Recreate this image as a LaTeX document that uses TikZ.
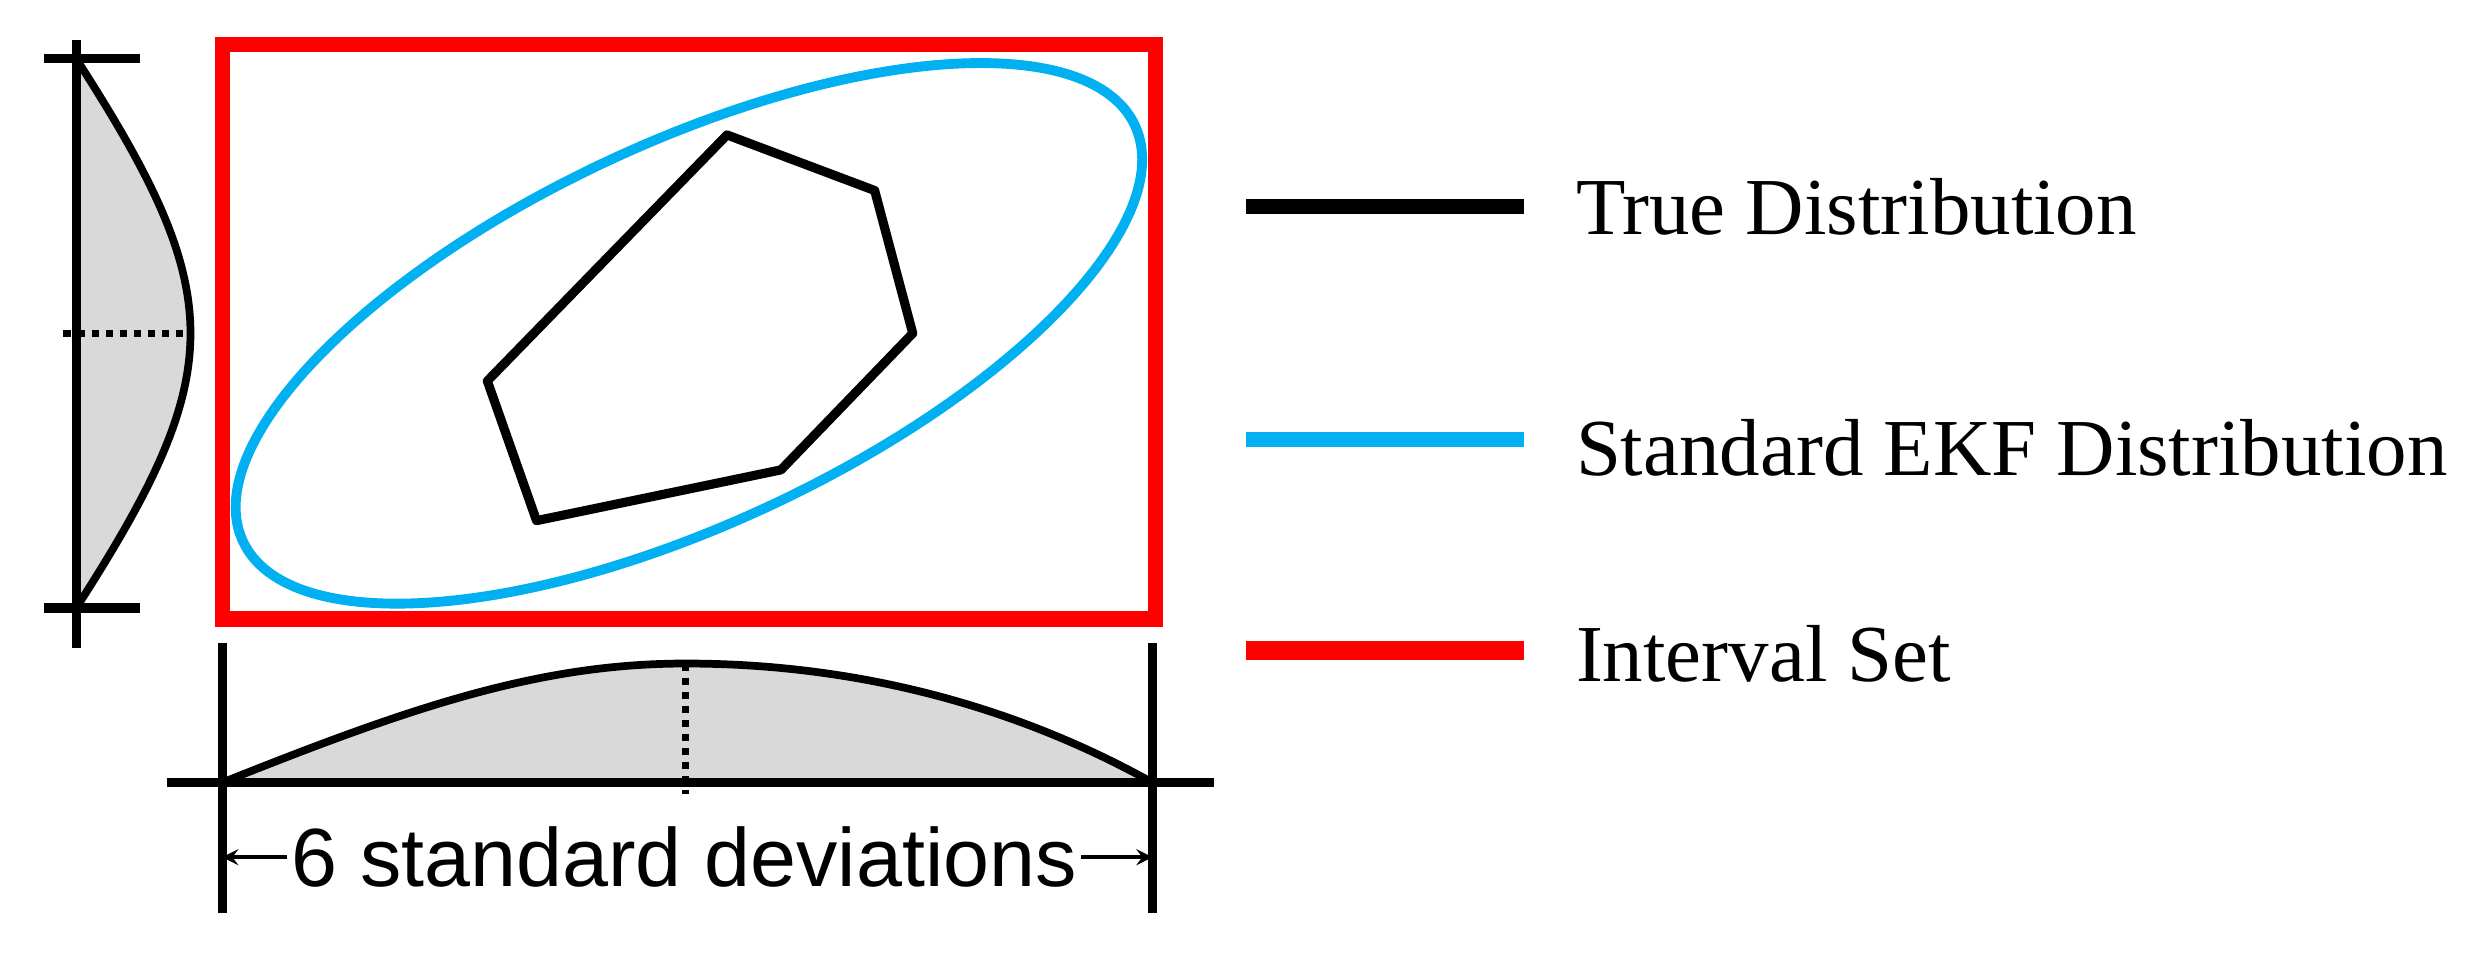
\documentclass[tikz,border=0pt]{standalone}
\usepackage{fontspec}
\setmainfont{Liberation Serif}
\setsansfont{Liberation Sans}
\definecolor{ekf}{RGB}{0,176,240}
\definecolor{ired}{RGB}{255,0,0}
\begin{document}
\begin{tikzpicture}[x=0.015874cm,y=-0.015874cm,
  ax/.style={line width=2.6pt},
  dist/.style={line width=2.2pt, fill=black!15},
  dot/.style={line width=2pt, dotted},
  leg/.style={anchor=west, font=\fontsize{23}{27}\selectfont}]
\useasboundingbox (0,0) rectangle (1568,606);
% interval set
\draw[ired, line width=4.4pt] (140,28) rectangle (728,390);
% EKF ellipse
\draw[ekf, line width=2.8pt, rotate around={25:(434,210)}] (434,210) ellipse [x radius=310, y radius=120];
% true distribution
\draw[line width=2.6pt, line join=round] (458,85) -- (551,120) -- (575,210) -- (492,296) -- (338,328) -- (307,240) -- cycle;
% left distribution
\draw[dist] (48,37) .. controls (95,110) and (120,160) .. (120,210) .. controls (120,260) and (95,310) .. (48,383) -- cycle;
\draw[ax] (48,25) -- (48,408);
\draw[ax] (28,37) -- (88,37);
\draw[ax] (28,383) -- (88,383);
\draw[dot] (40,210) -- (120,210);
% bottom distribution
\draw[dist] (140,493) .. controls (260,445) and (340,418) .. (432,418) .. controls (540,418) and (640,445) .. (726,493) -- cycle;
\draw[ax] (105,493) -- (765,493);
\coordinate (l) at (140,540);
\coordinate (r) at (726,540);
\draw[ax] (140,405) -- (140,575);
\draw[ax] (726,405) -- (726,575);
\draw[dot] (432,418) -- (432,500);
\node[font=\sffamily\fontsize{23.5}{28}\selectfont, inner sep=1pt] (lab) at (431,540) {6 standard deviations};
\draw[-stealth, line width=1pt] (lab.west) -- (l);
\draw[-stealth, line width=1pt] (lab.east) -- (r);
% legend
\draw[line width=4.4pt] (785,130) -- (960,130);
\node[leg] at (985,130) {True Distribution};
\draw[ekf, line width=4.4pt] (785,277) -- (960,277);
\node[leg] at (985,282) {Standard EKF Distribution};
\draw[ired, line width=5.5pt] (785,410) -- (960,410);
\node[leg] at (985,412) {Interval Set};
\end{tikzpicture}
\end{document}
